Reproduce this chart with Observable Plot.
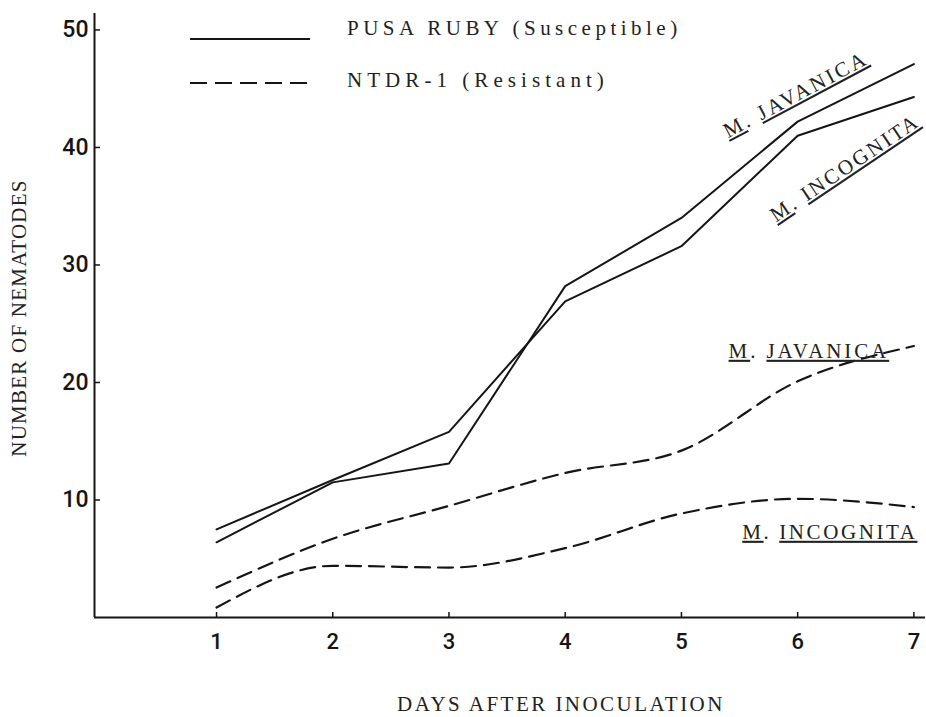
<!DOCTYPE html>
<html><head><meta charset="utf-8">
<script src="https://cdn.jsdelivr.net/npm/d3@7"></script>
<script src="https://cdn.jsdelivr.net/npm/@observablehq/plot@0.6"></script>
<style>
body{margin:0;background:#fff;}
#wrap{position:relative;width:926px;height:717px;overflow:hidden;}
#wrap svg{position:absolute;left:0;top:0;}
</style></head><body><div id="wrap"></div>
<script>
// ---- data ----
const days = [1, 2, 3, 4, 5, 6, 7];
const susJavanica  = [6.4, 11.5, 13.1, 28.2, 34.0, 42.2, 47.1];
const susIncognita = [7.5, 11.7, 15.8, 26.9, 31.6, 41.0, 44.3];
const resJavanica  = [2.55, 6.7, 9.5, 12.3, 14.2, 20.1, 23.1];
const resIncognita = [0.85, 4.4, 4.25, 5.9, 8.85, 10.1, 9.4];
const yTicks = [10, 20, 30, 40, 50];
const xTicks = days;
const cultivars = ["PUSA RUBY (Susceptible)", "NTDR-1 (Resistant)"];
const species = ["M. JAVANICA", "M. INCOGNITA"];
const xTitle = "DAYS AFTER INOCULATION";
const yTitle = "NUMBER OF NEMATODES";

const series = [
  {cultivar: cultivars[0], species: species[0], values: susJavanica},
  {cultivar: cultivars[0], species: species[1], values: susIncognita},
  {cultivar: cultivars[1], species: species[0], values: resJavanica},
  {cultivar: cultivars[1], species: species[1], values: resIncognita}
];
const rows = series.flatMap(s => days.map((d, i) => ({day: d, n: s.values[i], cultivar: s.cultivar, species: s.species, key: s.cultivar + "|" + s.species})));
const solid = rows.filter(r => r.cultivar === cultivars[0]);
const dashed = rows.filter(r => r.cultivar === cultivars[1]);
const at = (c, s, d) => rows.filter(r => r.cultivar === c && r.species === s && r.day === d);

const ink = "#151515";
const serif = "'Liberation Serif', 'DejaVu Serif', serif";
const labelStyle = {text: "species", fontFamily: serif, fontSize: 21, fill: "#222", textAnchor: "middle", lineAnchor: "middle"};

const chart = Plot.plot({
  width: 926, height: 717,
  marginLeft: 94, marginRight: 1, marginTop: 13, marginBottom: 100,
  style: {background: "#fff", color: ink},
  x: {domain: [-0.05, 7.10]},
  y: {domain: [0, 51.4]},
  marks: [
    Plot.ruleY([0], {stroke: ink, strokeWidth: 2}),
    Plot.ruleX([-0.05], {stroke: ink, strokeWidth: 2}),
    Plot.axisY(yTicks, {tickSize: -6, tickPadding: 12, stroke: ink, strokeWidth: 1.5, fontSize: 23, fontFamily: "Roboto", fontWeight: 500, fill: ink, label: null}),
    Plot.axisX(xTicks, {tickSize: -5, tickPadding: 21, tickFormat: "d", stroke: ink, strokeWidth: 1.5, fontSize: 22, fontFamily: "Roboto", fontWeight: 500, fill: ink, label: null}),
    Plot.line(solid, {x: "day", y: "n", z: "key", stroke: ink, strokeWidth: 2}),
    Plot.line(dashed, {x: "day", y: "n", z: "key", stroke: ink, strokeWidth: 2.2, strokeDasharray: "15,8", curve: "monotone-x"}),
    // curve labels, anchored to the data points
    Plot.text(at(cultivars[0], species[0], 6), {...labelStyle, x: "day", y: "n", dx: -2, dy: -27, rotate: -28}),
    Plot.text(at(cultivars[0], species[1], 7), {...labelStyle, x: "day", y: "n", dx: -69, dy: 71, rotate: -34}),
    Plot.text(at(cultivars[1], species[0], 7), {...labelStyle, x: "day", y: "n", dx: -105, dy: 5}),
    Plot.text(at(cultivars[1], species[1], 7), {...labelStyle, x: "day", y: "n", dx: -84, dy: 25})
  ]
});

// underline "M" and the species word, not ". "
d3.select(chart).selectAll("text").each(function() {
  const t = this.textContent;
  if (species.includes(t)) {
    const [g, sp] = t.split(". ");
    const sel = d3.select(this);
    sel.text(null).style("white-space", "pre").attr("data-pitch", 14.6);
    sel.append("tspan").style("text-decoration", "underline").text(g);
    sel.append("tspan").text(". ");
    sel.append("tspan").style("text-decoration", "underline").text(sp);
  }
});

const wrap = document.getElementById("wrap");
wrap.appendChild(chart);

// legend and axis titles
const ov = d3.create("svg").attr("width", 926).attr("height", 717)
  .attr("font-family", serif).attr("font-size", 21).attr("fill", "#222")
  .style("pointer-events", "none");
const leg = ov.selectAll("g.leg").data(cultivars).join("g").attr("class", "leg");
leg.append("line")
  .attr("x1", 190).attr("x2", (d, i) => i ? 307 : 310)
  .attr("y1", (d, i) => i ? 83 : 39).attr("y2", (d, i) => i ? 83 : 39)
  .attr("stroke", ink).attr("stroke-width", 2)
  .attr("stroke-dasharray", (d, i) => i ? "17,8" : null);
leg.append("text").attr("x", 347).attr("y", (d, i) => i ? 87 : 35).attr("data-pitch", 14.55).text(d => d);
ov.append("text").attr("text-anchor", "middle").attr("x", 561).attr("y", 711).attr("data-pitch", 14.9).text(xTitle);
ov.append("text").attr("text-anchor", "middle").attr("transform", "translate(26,318) rotate(-90)").attr("data-pitch", 14.6).text(yTitle);
wrap.appendChild(ov.node());

// typewriter look: spread letters to the reference's fixed pitch
wrap.querySelectorAll("text[data-pitch]").forEach(el => {
  const n = el.textContent.length;
  const target = (+el.getAttribute("data-pitch")) * n;
  const w = el.getComputedTextLength();
  el.style.letterSpacing = ((target - w) / n) + "px";
});
</script></body></html>
